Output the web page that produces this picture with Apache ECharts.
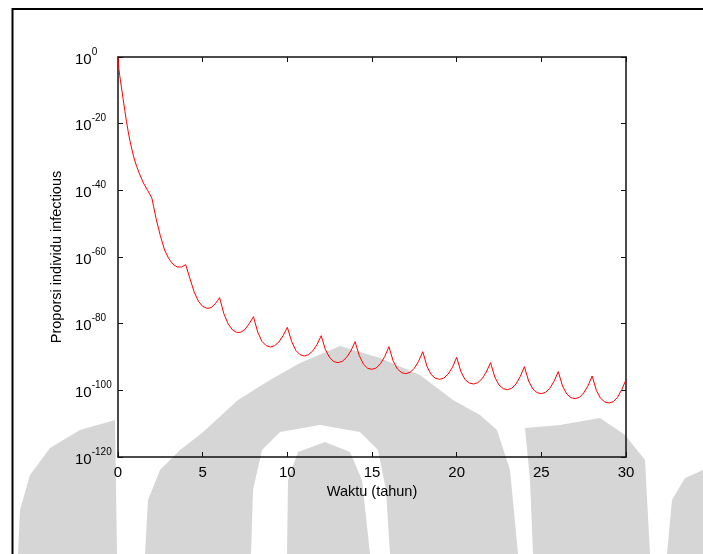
<!DOCTYPE html>
<html>
<head>
<meta charset="utf-8">
<script src="https://cdn.jsdelivr.net/npm/echarts@6/dist/echarts.min.js"></script>
<style>
html,body{margin:0;padding:0;background:#fff;}
#chart{width:703px;height:554px;}
</style>
</head>
<body>
<div id="chart"></div>
<script>
// Time in years
const years = [
  0, 0.05, 0.1, 0.2, 0.3, 0.4, 0.5, 0.6, 0.7, 0.8, 0.9, 1.0, 1.1, 1.25, 1.5, 1.75,
  2.0, 2.1, 2.25, 2.5, 2.75, 3.0, 3.25, 3.5, 3.75, 4.0,
  4.25, 4.5, 4.75, 5.0, 5.25, 5.5, 5.75, 6.0,
  6.25, 6.5, 6.75, 7.0, 7.25, 7.5, 7.75, 8.0,
  8.25, 8.5, 8.75, 9.0, 9.25, 9.5, 9.75, 10.0,
  10.25, 10.5, 10.75, 11.0, 11.25, 11.5, 11.75, 12.0,
  12.25, 12.5, 12.75, 13.0, 13.25, 13.5, 13.75, 14.0,
  14.25, 14.5, 14.75, 15.0, 15.25, 15.5, 15.75, 16.0,
  16.25, 16.5, 16.75, 17.0, 17.25, 17.5, 17.75, 18.0,
  18.25, 18.5, 18.75, 19.0, 19.25, 19.5, 19.75, 20.0,
  20.25, 20.5, 20.75, 21.0, 21.25, 21.5, 21.75, 22.0,
  22.25, 22.5, 22.75, 23.0, 23.25, 23.5, 23.75, 24.0,
  24.25, 24.5, 24.75, 25.0, 25.25, 25.5, 25.75, 26.0,
  26.25, 26.5, 26.75, 27.0, 27.25, 27.5, 27.75, 28.0,
  28.25, 28.5, 28.75, 29.0, 29.25, 29.5, 29.75, 30.0
];
// log10 of the infectious proportion (decades)
const log10Infectious = [
  0, -3.5, -5.5, -9, -12.5, -16, -19.3, -22.3, -25, -27.3, -29.4, -31.2, -32.8, -34.8, -37.8, -40,
  -42.3, -44.8, -48.5, -53.6, -57.9, -60.5, -62.2, -63, -63, -62.3,
  -66.5, -70.5, -73.3, -74.8, -75.4, -75.2, -74, -72.2,
  -77, -80, -81.8, -82.6, -82.6, -81.7, -80, -77.9,
  -82.5, -85.3, -86.6, -87, -86.6, -85.5, -83.6, -81.1,
  -85.3, -88, -89.3, -89.7, -89.3, -88.2, -86.3, -83.6,
  -87.8, -90.2, -91.4, -91.7, -91.3, -90.1, -88.2, -85.4,
  -89.6, -92.2, -93.4, -93.7, -93.3, -92, -89.9, -86.9,
  -91.2, -93.6, -94.7, -95, -94.6, -93.4, -91.3, -88.4,
  -92.9, -95.3, -96.4, -96.7, -96.3, -95.1, -93.1, -90.1,
  -94.4, -96.8, -97.8, -98.1, -97.7, -96.5, -94.5, -91.7,
  -96, -98.4, -99.5, -99.8, -99.4, -98.1, -95.9, -92.9,
  -97.2, -99.6, -100.7, -101, -100.6, -99.4, -97.3, -94.4,
  -98.7, -101.1, -102.2, -102.5, -102.1, -100.8, -98.7, -95.7,
  -100, -102.4, -103.5, -103.8, -103.4, -102.1, -99.8, -96.8
];
const xTicks = [0, 5, 10, 15, 20, 25, 30];
const yTickExponents = [0, -20, -40, -60, -80, -100, -120];
const xTitle = 'Waktu (tahun)';
const yTitle = 'Proporsi individu infectious';

const FONT = 'Liberation Sans, Arial, sans-serif';
// Y axis is drawn in decades (log10 scale), labels shown as powers of ten
const seriesData = years.map((t, i) => [t, log10Infectious[i]]);

const chart = echarts.init(document.getElementById('chart'), null, {renderer: 'canvas'});
const GRAY = '#d6d6d6';
const axisLine = {show: true, onZero: false, lineStyle: {color: '#111', width: 1.5}};
const tick = {show: true, inside: true, length: 5, lineStyle: {color: '#111', width: 1}};
function poly(points, fill, z) {
  return {type: 'polygon', z: z, silent: true, shape: {points: points}, style: {fill: fill}};
}
const yMin = yTickExponents[yTickExponents.length - 1];
const yMax = yTickExponents[0];
const option = {
  backgroundColor: '#fff',
  animation: false,
  grid: {left: 118, right: 77, top: 57, bottom: 97, containLabel: false},
  graphic: {
    elements: [
      // watermark (approximate)
      poly([[145,554],[148,500],[160,470],[180,450],[202,433],[238,400],[270,380],[300,363],[340,346],
            [380,358],[420,375],[453,400],[480,415],[497,430],[510,470],[518,554]], GRAY, -20),
      poly([[18,554],[20,510],[30,475],[50,448],[80,430],[115,420],[117,554]], GRAY, -20),
      poly([[533,554],[530,480],[525,428],[560,425],[600,418],[625,435],[645,460],[650,554]], GRAY, -20),
      poly([[667,554],[672,500],[685,478],[703,470],[703,554]], GRAY, -20),
      poly([[251,554],[253,490],[262,450],[280,432],[320,425],[360,432],[378,450],[386,490],[390,554]], '#fff', -19),
      poly([[287,554],[288,480],[298,452],[325,442],[350,452],[362,480],[370,554]], GRAY, -18),
      // page frame
      {type: 'line', z: 10, silent: true, shape: {x1: 12, y1: 9, x2: 703, y2: 9}, style: {stroke: '#000', lineWidth: 2}},
      {type: 'line', z: 10, silent: true, shape: {x1: 12.5, y1: 8, x2: 12.5, y2: 554}, style: {stroke: '#000', lineWidth: 2}}
    ]
  },
  xAxis: [
    {
      type: 'value', position: 'bottom', min: xTicks[0], max: xTicks[xTicks.length - 1], interval: 5,
      axisLine: axisLine, axisTick: tick,
      axisLabel: {show: true, fontSize: 15, color: '#000', fontFamily: FONT, margin: 8},
      splitLine: {show: false},
      name: xTitle, nameLocation: 'middle', nameGap: 26,
      nameTextStyle: {fontSize: 14.5, color: '#000', fontFamily: FONT}
    },
    {
      type: 'value', position: 'top', min: xTicks[0], max: xTicks[xTicks.length - 1], interval: 5,
      axisLine: axisLine, axisTick: tick,
      axisLabel: {show: false}, splitLine: {show: false}
    }
  ],
  yAxis: [
    {
      type: 'value', position: 'left', min: yMin, max: yMax, interval: 20,
      axisLine: axisLine, axisTick: tick,
      axisLabel: {
        show: true, align: 'left', margin: 43, color: '#000',
        formatter: function (v) {
          return '{b|10}{s|' + Math.round(v) + '}';
        },
        rich: {
          b: {fontSize: 15, fontFamily: FONT, color: '#000', lineHeight: 20, padding: [5, 0, 0, 0], verticalAlign: 'bottom'},
          s: {fontSize: 10, fontFamily: FONT, color: '#000', lineHeight: 12, verticalAlign: 'top'}
        }
      },
      splitLine: {show: false},
      name: yTitle, nameLocation: 'middle', nameGap: 46, nameRotate: 90,
      nameTextStyle: {fontSize: 14.5, color: '#000', fontFamily: FONT}
    },
    {
      type: 'value', position: 'right', min: yMin, max: yMax, interval: 20,
      axisLine: axisLine, axisTick: tick,
      axisLabel: {show: false}, splitLine: {show: false}
    }
  ],
  series: [{
    type: 'line', xAxisIndex: 0, yAxisIndex: 0, z: 5,
    data: seriesData, showSymbol: false, symbol: 'none', smooth: false,
    lineStyle: {color: '#ff0000', width: 1}
  }]
};
chart.setOption(option);
</script>
</body>
</html>
